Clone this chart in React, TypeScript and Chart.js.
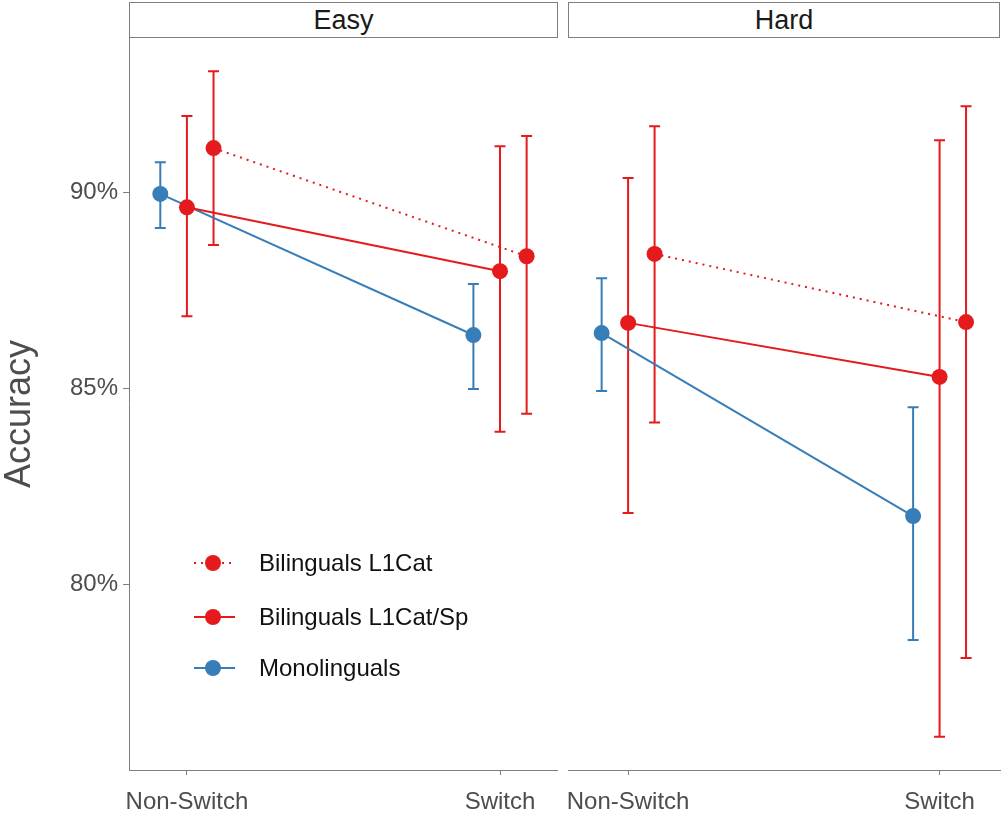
import React, { useEffect, useRef } from 'react';
import { Chart, registerables } from 'chart.js';

Chart.register(...registerables);

// ---------- data ----------
const categories = ['Non-Switch', 'Switch'];
const panels = ['Easy', 'Hard'];
const yTitle = 'Accuracy';
const groupNames = ['Bilinguals L1Cat', 'Bilinguals L1Cat/Sp', 'Monolinguals'];
const groupColors = ['#E41A1C', '#E41A1C', '#377EB8'];
const groupDashed = [true, false, false];
const groupDodge = [0.085, 0, -0.085];
const yTicks = [80, 85, 90];
const yRange = [75.26, 93.94];

// Easy panel
const easyCatMean = [91.13, 88.37];
const easyCatLow = [88.66, 84.35];
const easyCatHigh = [93.09, 91.44];
const easySpMean = [89.62, 87.99];
const easySpLow = [86.84, 83.89];
const easySpHigh = [91.95, 91.18];
const easyMonoMean = [89.96, 86.36];
const easyMonoLow = [89.09, 84.98];
const easyMonoHigh = [90.77, 87.66];

// Hard panel
const hardCatMean = [88.43, 86.69];
const hardCatLow = [84.13, 78.12];
const hardCatHigh = [91.69, 92.2];
const hardSpMean = [86.67, 85.29];
const hardSpLow = [81.82, 76.11];
const hardSpHigh = [90.37, 91.33];
const hardMonoMean = [86.41, 81.74];
const hardMonoLow = [84.93, 78.58];
const hardMonoHigh = [87.81, 84.52];

const panelData = [
  {
    means: [easyCatMean, easySpMean, easyMonoMean],
    lows: [easyCatLow, easySpLow, easyMonoLow],
    highs: [easyCatHigh, easySpHigh, easyMonoHigh],
  },
  {
    means: [hardCatMean, hardSpMean, hardMonoMean],
    lows: [hardCatLow, hardSpLow, hardMonoLow],
    highs: [hardCatHigh, hardSpHigh, hardMonoHigh],
  },
];

const FONT = '"Liberation Sans", Arial, Helvetica, sans-serif';
const AXIS_GREY = '#7f7f7f';
const TEXT_GREY = '#4d4d4d';

const errorBarPlugin = {
  id: 'errorBars',
  beforeDatasetsDraw(chart: any) {
    const ctx = chart.ctx;
    const xs = chart.scales.x;
    const ys = chart.scales.y;
    chart.data.datasets.forEach((ds: any) => {
      ctx.save();
      ctx.strokeStyle = ds.borderColor;
      ctx.lineWidth = 2;
      ctx.setLineDash([]);
      ds.data.forEach((pt: any, i: number) => {
        const x = xs.getPixelForValue(pt.x);
        const yl = ys.getPixelForValue(ds.lows[i]);
        const yh = ys.getPixelForValue(ds.highs[i]);
        const cap = 5.5;
        ctx.beginPath();
        ctx.moveTo(x, yl);
        ctx.lineTo(x, yh);
        ctx.moveTo(x - cap, yl);
        ctx.lineTo(x + cap, yl);
        ctx.moveTo(x - cap, yh);
        ctx.lineTo(x + cap, yh);
        ctx.stroke();
      });
      ctx.restore();
    });
  },
};

function makeConfig(panelIdx: number) {
  const pd = panelData[panelIdx];
  const first = panelIdx === 0;
  const xMin = first ? 0.815 : 0.807;
  const xMax = first ? 2.182 : 2.194;
  const datasets = groupNames.map((name, g) => ({
    label: name,
    data: categories.map((_, c) => ({ x: c + 1 + groupDodge[g], y: pd.means[g][c] })),
    lows: pd.lows[g],
    highs: pd.highs[g],
    showLine: true,
    borderColor: groupColors[g],
    backgroundColor: groupColors[g],
    pointBackgroundColor: groupColors[g],
    pointBorderWidth: 0,
    pointRadius: 8,
    pointHoverRadius: 8,
    borderWidth: 2,
    borderDash: groupDashed[g] ? [2, 5] : [],
    tension: 0,
    clip: false,
  }));
  return {
    type: 'scatter' as const,
    data: { datasets },
    plugins: [errorBarPlugin],
    options: {
      animation: false,
      responsive: false,
      maintainAspectRatio: false,
      layout: {
        autoPadding: false,
        padding: first ? { left: 0, right: 3, top: 38, bottom: 0 } : { left: 8, right: 2, top: 38, bottom: 0 },
      },
      plugins: { legend: { display: false }, tooltip: { enabled: false }, title: { display: false } },
      scales: {
        x: {
          type: 'linear',
          min: xMin,
          max: xMax,
          afterBuildTicks: (s: any) => {
            s.ticks = categories.map((_, i) => ({ value: i + 1 }));
          },
          afterFit: (s: any) => {
            s.height = 43;
            s.paddingLeft = 0;
            s.paddingRight = 0;
          },
          ticks: {
            callback: (v: any) => categories[Math.round(v) - 1] ?? '',
            font: { family: FONT, size: 24 },
            color: TEXT_GREY,
            padding: 13,
            maxRotation: 0,
            autoSkip: false,
          },
          grid: { drawOnChartArea: false, drawTicks: true, tickLength: 5, color: AXIS_GREY, tickColor: AXIS_GREY },
          border: { display: true, color: AXIS_GREY, width: 1 },
        },
        y: {
          type: 'linear',
          display: first,
          min: yRange[0],
          max: yRange[1],
          afterBuildTicks: (s: any) => {
            s.ticks = yTicks.map((v) => ({ value: v }));
          },
          afterFit: (s: any) => {
            if (first) s.width = 129;
            s.paddingTop = 0;
            s.paddingBottom = 0;
          },
          ticks: {
            callback: (v: any) => v + '%',
            font: { family: FONT, size: 24 },
            color: TEXT_GREY,
            padding: 5,
          },
          grid: { drawOnChartArea: false, drawTicks: true, tickLength: 6, color: AXIS_GREY, tickColor: AXIS_GREY },
          border: { display: true, color: AXIS_GREY, width: 1 },
        },
      },
    },
  };
}

function Panel({ idx, left, width }: { idx: number; left: number; width: number }) {
  const ref = useRef<HTMLCanvasElement | null>(null);
  useEffect(() => {
    if (!ref.current) return;
    const chart = new Chart(ref.current, makeConfig(idx) as any);
    return () => chart.destroy();
  }, [idx]);
  return (
    <canvas
      ref={ref}
      width={width}
      height={813}
      style={{ position: 'absolute', left, top: 0, width, height: 813 }}
    />
  );
}

function Strip({ label, left, width }: { label: string; left: number; width: number }) {
  return (
    <div
      style={{
        position: 'absolute',
        left,
        top: 2,
        width,
        height: 36,
        boxSizing: 'border-box',
        border: `1px solid ${AXIS_GREY}`,
        background: '#fff',
        fontFamily: FONT,
        fontSize: 27,
        color: '#1a1a1a',
        display: 'flex',
        alignItems: 'center',
        justifyContent: 'center',
      }}
    >
      {label}
    </div>
  );
}

function LegendRow({ g, cy }: { g: number; cy: number }) {
  const color = groupColors[g];
  return (
    <div style={{ position: 'absolute', left: 194, top: cy - 15, height: 30, display: 'flex', alignItems: 'center' }}>
      <svg width={42} height={30} style={{ display: 'block' }}>
        <line
          x1={0}
          y1={15}
          x2={41}
          y2={15}
          stroke={color}
          strokeWidth={2}
          strokeDasharray={groupDashed[g] ? '2 5' : undefined}
        />
        <circle cx={19} cy={15} r={8} fill={color} />
      </svg>
      <span
        style={{
          marginLeft: 23,
          fontFamily: FONT,
          fontSize: 24,
          color: '#111',
          whiteSpace: 'nowrap',
          lineHeight: '30px',
        }}
      >
        {groupNames[g]}
      </span>
    </div>
  );
}

export default function App() {
  const legendY = [563, 617, 668];
  return (
    <div style={{ position: 'absolute', left: 0, top: 0, width: 1002, height: 813, background: '#fff', overflow: 'hidden' }}>
      <Panel idx={0} left={0} width={560} />
      <Panel idx={1} left={560} width={442} />
      <Strip label={panels[0]} left={129} width={429} />
      <Strip label={panels[1]} left={568} width={432} />
      <div
        style={{
          position: 'absolute',
          left: 18 - 100,
          top: 414 - 22,
          width: 200,
          height: 44,
          lineHeight: '44px',
          textAlign: 'center',
          transform: 'rotate(-90deg)',
          fontFamily: FONT,
          fontSize: 36,
          color: TEXT_GREY,
          whiteSpace: 'nowrap',
        }}
      >
        {yTitle}
      </div>
      {groupNames.map((_, g) => (
        <LegendRow key={g} g={g} cy={legendY[g]} />
      ))}
    </div>
  );
}
